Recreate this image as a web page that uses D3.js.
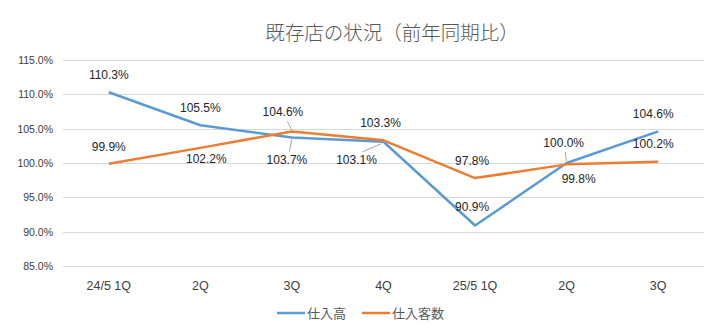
<!DOCTYPE html>
<html><head><meta charset="utf-8">
<script src="https://cdn.jsdelivr.net/npm/d3@7"></script>
<style>body{margin:0;background:#fff}svg{display:block}</style>
</head><body>
<script>
const categories = ["24/5 1Q","2Q","3Q","4Q","25/5 1Q","2Q","3Q"];
const seriesNames = ["仕入高","仕入客数"];
const purchaseAmount = [110.3,105.5,103.7,103.1,90.9,100.0,104.6];
const customerCount = [99.9,102.2,104.6,103.3,97.8,99.8,100.2];
const yTicks = [85,90,95,100,105,110,115];
const title = "既存店の状況（前年同期比）";

// label placement (style only)
const blueOffsets = [[0,-17],[0,-17],[-5,22],[-27,18],[-3,-18],[-3,-20],[-5,-17]];
const orangeOffsets = [[0,-17],[6,11],[-9,-19],[-3,-17],[-3,-17],[12,15],[-5,-18]];
const blueLeaders = [false,false,true,true,false,true,false];
const orangeLeaders = [false,false,true,false,false,false,false];

const W=709,H=331;
const svg=d3.select("body").append("svg").attr("width",W).attr("height",H);
const x=d3.scaleBand().domain(d3.range(categories.length)).range([63,704]).padding(0);
const y=d3.scaleLinear().domain([85,115]).range([266,60]);
const cx=i=>x(i)+x.bandwidth()/2;

svg.append("text").attr("x",392).attr("y",31).attr("text-anchor","middle")
  .attr("dominant-baseline","central").attr("font-family","'Noto Sans CJK JP'")
  .attr("font-size",19.5).attr("font-weight",300).attr("fill","#595959").text(title);

// grid
svg.append("g").selectAll("line").data(yTicks).join("line")
  .attr("x1",63).attr("x2",704).attr("y1",d=>Math.round(y(d))+0.5).attr("y2",d=>Math.round(y(d))+0.5)
  .attr("stroke","#d9d9d9").attr("stroke-width",1);

// y axis labels
const ya=svg.append("g").attr("transform","translate(53,0)")
  .call(d3.axisLeft(y).tickValues(yTicks).tickSize(0).tickFormat(d=>d.toFixed(1)+"%"));
ya.select(".domain").remove();
ya.selectAll("text").attr("font-family","'Liberation Sans', Arial").attr("font-size",10.5).attr("fill","#404040").attr("x",0);

// x axis labels
const xa=svg.append("g").attr("transform","translate(0,278)")
  .call(d3.axisBottom(x).tickSize(0).tickFormat(i=>categories[i]));
xa.select(".domain").remove();
xa.selectAll("text").attr("font-family","'Liberation Sans', Arial").attr("font-size",12.5).attr("fill","#404040");

const line=d3.line().x((d,i)=>cx(i)).y(d=>y(d));
svg.append("path").datum(purchaseAmount).attr("d",line).attr("fill","none")
  .attr("stroke","#5B9BD5").attr("stroke-width",2.5).attr("stroke-linejoin","round");
svg.append("path").datum(customerCount).attr("d",line).attr("fill","none")
  .attr("stroke","#ED7D31").attr("stroke-width",2.5).attr("stroke-linejoin","round");

function labels(vals,offs,leaders){
  const g=svg.append("g");
  vals.forEach((v,i)=>{
    const px=cx(i),py=y(v);
    const lx=px+offs[i][0],ly=py+offs[i][1];
    if(leaders[i]){
      const ey = offs[i][1]>0 ? ly-8 : ly+9;
      const ex = offs[i][0]<-15 ? lx+6 : lx+ (px-lx)*0.5;
      g.append("line").attr("x1",ex).attr("y1",ey).attr("x2",px+(px-ex)*-0.1).attr("y2",py+(offs[i][1]>0?2:-2))
        .attr("stroke","#a6a6a6").attr("stroke-width",1);
    }
    g.append("text").attr("x",lx).attr("y",ly).attr("text-anchor","middle").attr("dominant-baseline","central")
      .attr("font-family","'Liberation Sans', Arial").attr("font-size",12).attr("fill","#262626")
      .text(v.toFixed(1)+"%");
  });
}
labels(purchaseAmount,blueOffsets,blueLeaders);
labels(customerCount,orangeOffsets,orangeLeaders);

// legend
const colors=["#5B9BD5","#ED7D31"];
const lg=svg.append("g");
const legX=[277,362];
seriesNames.forEach((n,i)=>{
  lg.append("line").attr("x1",legX[i]).attr("x2",legX[i]+28).attr("y1",313).attr("y2",313)
    .attr("stroke",colors[i]).attr("stroke-width",2.5);
  lg.append("text").attr("x",legX[i]+30).attr("y",312).attr("dominant-baseline","central")
    .attr("font-family","'Noto Sans CJK JP'").attr("font-size",13).attr("fill","#595959").text(n);
});
</script>
</body></html>
